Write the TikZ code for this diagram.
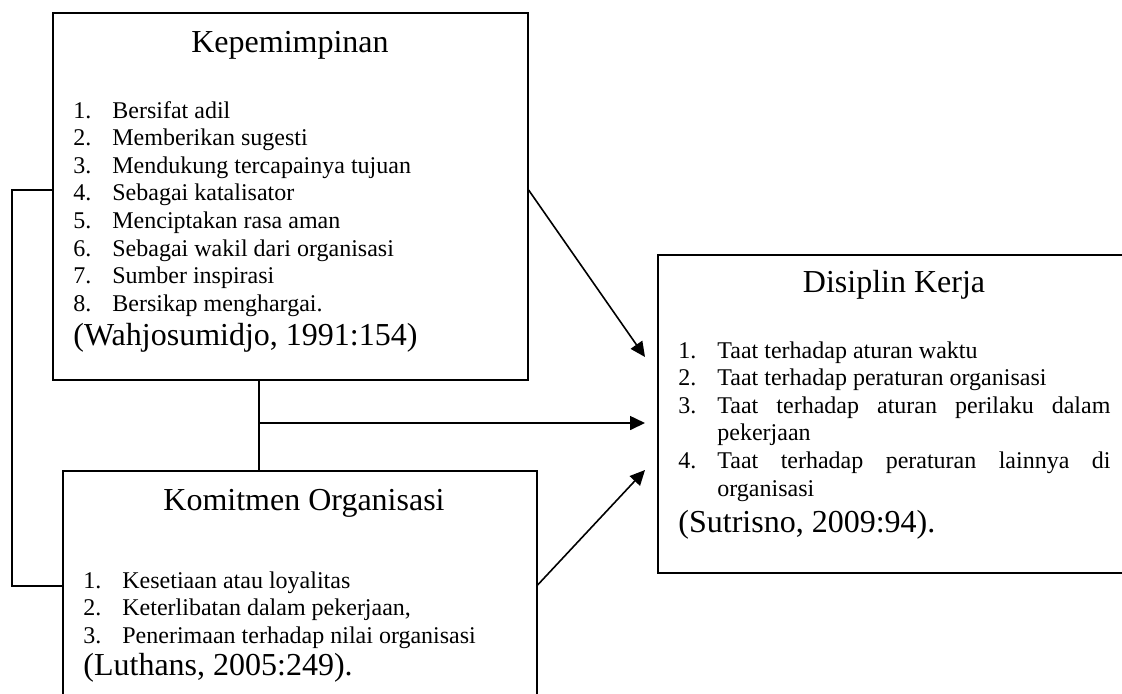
\documentclass[tikz,border=0pt]{standalone}
\usepackage{fontspec}
\setmainfont{Liberation Serif}
\usetikzlibrary{arrows.meta}
\newcommand\butir[2]{\hangindent=19.5pt\hangafter=1\noindent\makebox[19.5pt][l]{#1}#2\par}

\begin{document}
\begin{tikzpicture}[x=0.5pt, y=-0.5pt,
  kotak/.style={draw, line width=0.8pt, anchor=north west, inner sep=0pt},
  judul/.style={font=\fontsize{16}{18}\selectfont, anchor=base, inner sep=0pt},
  daftar/.style={font=\fontsize{12}{13.8}\selectfont, anchor=base west, inner sep=0pt},
  sumber/.style={font=\fontsize{16}{18}\selectfont, anchor=base west, inner sep=0pt},
  garis/.style={line width=0.8pt},
  panah/.style={-{Triangle[length=7.5pt, width=7pt]}, line width=0.8pt}
]
  \clip (0,0) rectangle (1122,693);

  \node[kotak, minimum width=237.5pt, minimum height=183.5pt] (lead) at (52,12) {};
  \node[kotak, minimum width=237pt, minimum height=140pt] (komit) at (62,470) {};
  \node[kotak, minimum width=245pt, minimum height=159pt] (disip) at (657,254) {};

  \node[judul] (leadJ) at (290,52) {Kepemimpinan};
  \node[daftar] (leadD) at (73,118) {\parbox[t]{220pt}{%
    \butir{1.}{Bersifat adil}
    \butir{2.}{Memberikan sugesti}
    \butir{3.}{Mendukung tercapainya tujuan}
    \butir{4.}{Sebagai katalisator}
    \butir{5.}{Menciptakan rasa aman}
    \butir{6.}{Sebagai wakil dari organisasi}
    \butir{7.}{Sumber inspirasi}
    \butir{8.}{Bersikap menghargai.}}};
  \node[sumber] (leadS) at (73,345) {(Wahjosumidjo, 1991:154)};

  \node[judul] (komitJ) at (304,510) {Komitmen Organisasi};
  \node[daftar] (komitD) at (83,588) {\parbox[t]{215pt}{%
    \butir{1.}{Kesetiaan atau loyalitas}
    \butir{2.}{Keterlibatan dalam pekerjaan,}
    \butir{3.}{Penerimaan terhadap nilai organisasi}}};
  \node[sumber] (komitS) at (83,675) {(Luthans, 2005:249).};

  \node[judul] (disipJ) at (894,292) {Disiplin Kerja};
  \node[daftar] (disipD) at (678,358) {\parbox[t]{216pt}{%
    \hyphenpenalty=10000 \tolerance=10000 \spaceskip=3pt plus 10pt minus 1pt
    \butir{1.}{Taat terhadap aturan waktu}
    \butir{2.}{Taat terhadap peraturan organisasi}
    \butir{3.}{Taat terhadap aturan perilaku dalam pekerjaan}
    \butir{4.}{Taat terhadap peraturan lainnya di organisasi}}};
  \node[sumber] (disipS) at (678,532) {(Sutrisno, 2009:94).};

  \coordinate (ujungA) at (645,357);
  \coordinate (ujungB) at (645,423);
  \coordinate (ujungC) at (645,470);
  \coordinate (cabang) at (259,423);

  \draw[garis] (lead.west |- 0,190) -- ++(-40,0) |- (komit.west |- 0,586);
  \draw[garis] (259,0 |- lead.south) -- (259,0 |- komit.north);
  \draw[panah] (cabang) -- (ujungB);
  \draw[panah] (lead.east |- 0,190) -- (ujungA);
  \draw[panah] (komit.east |- 0,585) -- (ujungC);
\end{tikzpicture}
\end{document}
